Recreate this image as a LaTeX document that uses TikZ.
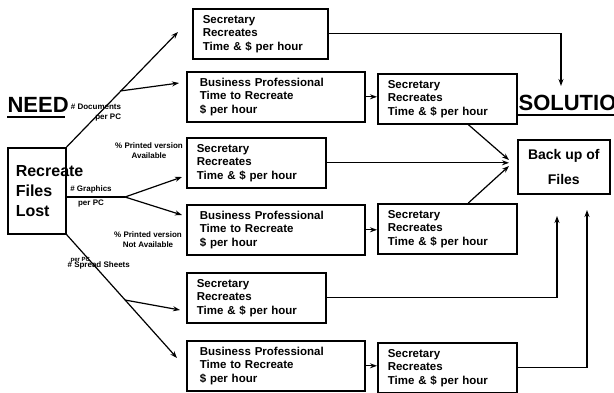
\documentclass[tikz,border=0pt]{standalone}
\usepackage{fontspec}
\setmainfont{Liberation Sans}
\usetikzlibrary{arrows.meta}

\begin{document}
\begin{tikzpicture}[x=1pt, y=-1pt, >={Stealth[length=7pt,width=5pt]}, line width=1.2pt,
    box/.style={draw, line width=1.6pt, font=\fontsize{11.5}{13.5}\selectfont\bfseries,
        align=left, anchor=north west, minimum height=50pt, inner ysep=0pt},
    secbox/.style={box, inner xsep=10pt, text width=119pt},
    bpbox/.style={box, inner xsep=13pt, text width=152pt},
    lbl/.style={font=\fontsize{8}{10}\selectfont\bfseries, align=center, inner sep=0pt},
    headline/.style={font=\fontsize{22}{24}\selectfont\bfseries, inner sep=0pt, anchor=base west}]
    \useasboundingbox (0,0) rectangle (614,392);

    % 1. titles
    \node[headline] (need) at (7,112) {NEED};
    \draw[line width=2pt] ([yshift=-5pt]need.base west) -- ([yshift=-5pt,xshift=-4pt]need.base east);
    \node[headline] (solution) at (518,110) {SOLUTION};
    \draw[line width=2pt] ([yshift=-5pt]solution.base west) -- ([yshift=-5pt]solution.base east);

    % 2. problem and goal
    \node[draw, line width=1.6pt, anchor=north west, inner xsep=8pt, text width=42pt,
        minimum height=86pt, align=left, font=\fontsize{16}{20}\selectfont\bfseries]
        (lost) at (7,147) {Recreate\\Files\\Lost};
    \node[draw, line width=1.6pt, anchor=north west, minimum width=92pt, minimum height=54pt,
        align=center, font=\fontsize{14}{25}\selectfont\bfseries]
        (backup) at (517,139) {Back up of\\Files};

    % 3. cost boxes (left column, then right column)
    \node[secbox, text width=115pt] (s1) at (192,8) {Secretary\\Recreates\\Time \& \$ per hour};
    \node[bpbox] (b1) at (186,71) {Business Professional\\Time to Recreate\\\$ per hour};
    \node[secbox] (s2) at (186,137) {Secretary\\Recreates\\Time \& \$ per hour};
    \node[bpbox] (b2) at (186,204) {Business Professional\\Time to Recreate\\\$ per hour};
    \node[secbox] (s3) at (186,272) {Secretary\\Recreates\\Time \& \$ per hour};
    \node[bpbox] (b3) at (186,340) {Business Professional\\Time to Recreate\\\$ per hour};
    \node[secbox] (r1) at (377,73) {Secretary\\Recreates\\Time \& \$ per hour};
    \node[secbox] (r2) at (377,203) {Secretary\\Recreates\\Time \& \$ per hour};
    \node[secbox] (r3) at (377,342) {Secretary\\Recreates\\Time \& \$ per hour};

    % 4. branch points and arrow ends
    \coordinate (tS1) at (178,32);
    \coordinate (bDoc) at (120,91);
    \coordinate (tB1) at (179,83);
    \coordinate (bGra) at (125,197);
    \coordinate (tS2) at (182,177);
    \coordinate (tB2) at (182,215);
    \coordinate (bSpr) at (125,300);
    \coordinate (tS3) at (180,310);
    \coordinate (tB3) at (177,358);
    \coordinate (tSol) at (561,86);
    \coordinate (hubA) at (509,160);
    \coordinate (hubB) at (509,163);
    \coordinate (hubC) at (509,166);
    \coordinate (tUpA) at (557,216);
    \coordinate (tUpB) at (587,210);

    % 5. branches out of the lost files
    \draw[->] (lost.north east) -- (tS1);
    \draw[->] (bDoc) -- (tB1);
    \draw (lost.east |- bGra) -- (bGra);
    \draw[->] (bGra) -- (tS2);
    \draw[->] (bGra) -- (tB2);
    \draw[->] (lost.south east) -- (tB3);
    \draw[->] (bSpr) -- (tS3);

    \node[lbl, align=right] (lDoc) at (96,113) {\# Documents\\per PC};
    \node[lbl] (lAva) at (149,151) {\% Printed version\\Available};
    \node[lbl, font=\fontsize{8}{14}\selectfont\bfseries] (lGra) at (91,196) {\# Graphics\\per PC};
    \node[lbl] (lNot) at (148,240) {\% Printed version\\Not Available};
    \node[lbl, anchor=west] (lSpr) at (67,265) {\# Spread Sheets};
    \node[lbl, anchor=west, font=\fontsize{6}{7}\selectfont\bfseries] (lSprPer) at (70,260) {per PC};

    % 6. towards the solution
    \draw[->] (b1.east) -- (b1.east -| r1.west);
    \draw[->] (b2.east) -- (b2.east -| r2.west);
    \draw[->] (b3.east) -- (b3.east -| r3.west);
    \draw[->] (s1.east) -| (tSol);
    \draw[->] ([xshift=21pt]r1.south) -- (hubA);
    \draw[->] (s2.east) -- (s2.east -| hubB);
    \draw[->] ([xshift=21pt]r2.north) -- (hubC);
    \draw[->] (s3.east) -| (tUpA);
    \draw[->] (r3.east) -| (tUpB);
\end{tikzpicture}
\end{document}
